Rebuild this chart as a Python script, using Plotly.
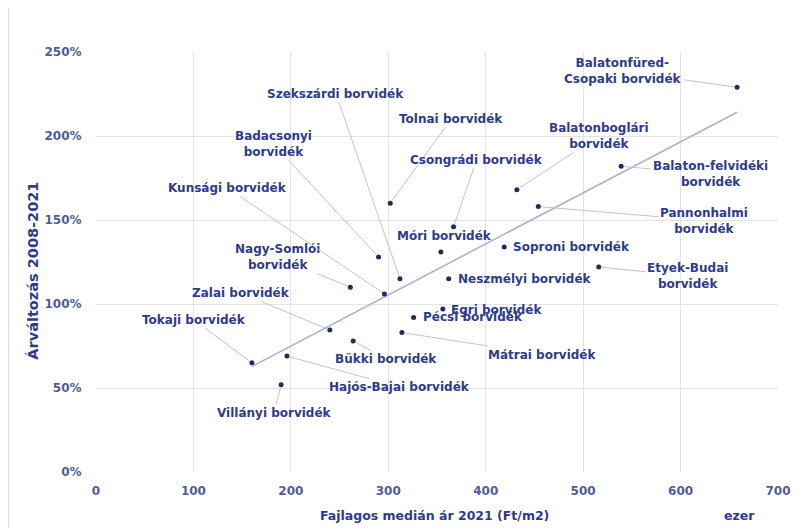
import numpy as np
import plotly.graph_objects as go

# ---- data ----
regions = [
    "Balatonfüred-Csopaki borvidék", "Balatonboglári borvidék", "Balaton-felvidéki borvidék",
    "Pannonhalmi borvidék", "Soproni borvidék", "Etyek-Budai borvidék", "Neszmélyi borvidék",
    "Egri borvidék", "Pécsi borvidék", "Mátrai borvidék", "Bükki borvidék", "Hajós-Bajai borvidék",
    "Villányi borvidék", "Tokaji borvidék", "Zalai borvidék", "Nagy-Somlói borvidék",
    "Kunsági borvidék", "Badacsonyi borvidék", "Szekszárdi borvidék", "Tolnai borvidék",
    "Csongrádi borvidék", "Móri borvidék",
]
label_text = [
    "Balatonfüred-<br>Csopaki borvidék", "Balatonboglári<br>borvidék", "Balaton-felvidéki<br>borvidék",
    "Pannonhalmi<br>borvidék", "Soproni borvidék", "Etyek-Budai<br>borvidék", "Neszmélyi borvidék",
    "Egri borvidék", "Pécsi borvidék", "Mátrai borvidék", "Bükki borvidék", "Hajós-Bajai borvidék",
    "Villányi borvidék", "Tokaji borvidék", "Zalai borvidék", "Nagy-Somlói<br>borvidék",
    "Kunsági borvidék", "Badacsonyi<br>borvidék", "Szekszárdi borvidék", "Tolnai borvidék",
    "Csongrádi borvidék", "Móri borvidék",
]
price_2021 = [658, 432, 539, 454, 419, 516, 362, 356, 326, 314, 264, 196,
              190, 160, 240, 261, 296, 290, 312, 302, 367, 354]
change_2008_2021 = [229, 168, 182, 158, 134, 122, 115, 97, 92, 83, 78, 69,
                    52, 65, 84.5, 110, 106, 128, 115, 160, 146, 131]

x_ticks = [0, 100, 200, 300, 400, 500, 600, 700]
y_ticks = [0, 50, 100, 150, 200, 250]
y_tick_labels = ["0%", "50%", "100%", "150%", "200%", "250%"]

# ---- label placement (pixel offsets of label centre from its point) ----
label_pos = {
    "Balatonfüred-Csopaki borvidék": ("arrow", -114, -16),
    "Balatonboglári borvidék": ("arrow", 82, -54),
    "Balaton-felvidéki borvidék": ("arrow", 89, 8),
    "Pannonhalmi borvidék": ("arrow", 166, 14),
    "Soproni borvidék": ("right", 7, 0),
    "Etyek-Budai borvidék": ("arrow", 89, 9),
    "Neszmélyi borvidék": ("right", 7, 0),
    "Egri borvidék": ("right", 6, 1),
    "Pécsi borvidék": ("right", 7, 0),
    "Mátrai borvidék": ("arrow", 140, 22),
    "Bükki borvidék": ("arrow", 33, 18),
    "Hajós-Bajai borvidék": ("arrow", 113, 31),
    "Villányi borvidék": ("arrow", -7, 28),
    "Tokaji borvidék": ("arrow", -58, -43),
    "Zalai borvidék": ("arrow", -89, -37),
    "Nagy-Somlói borvidék": ("arrow", -73, -30),
    "Kunsági borvidék": ("arrow", -157, -106),
    "Badacsonyi borvidék": ("arrow", -105, -113),
    "Szekszárdi borvidék": ("arrow", -64, -185),
    "Tolnai borvidék": ("arrow", 61, -84),
    "Csongrádi borvidék": ("arrow", 23, -67),
    "Móri borvidék": ("above", 4, 16),
}

NAVY = "#2e3b8b"
TICK = "#4d5c9c"
FONT = "DejaVu Sans"

fig = go.Figure()

# trendline (linear fit)
xs = np.array(price_2021, dtype=float)
ys = np.array(change_2008_2021, dtype=float)
slope, intercept = np.polyfit(xs, ys, 1)
tx = np.array([xs.min(), xs.max()])
fig.add_trace(go.Scatter(x=tx, y=slope * tx + intercept, mode="lines",
                         line=dict(color="#aab3d3", width=1.6),
                         hoverinfo="skip", showlegend=False))

fig.add_trace(go.Scatter(x=price_2021, y=change_2008_2021, mode="markers",
                         marker=dict(color="#1f2a5e", size=5),
                         text=regions, hoverinfo="text", showlegend=False))

lab_font = dict(family=FONT, size=12, color=NAVY, weight="bold")
for name, txt, x, y in zip(regions, label_text, price_2021, change_2008_2021):
    kind, dx, dy = label_pos[name]
    if kind == "arrow":
        fig.add_annotation(x=x, y=y, text=txt, showarrow=True, arrowhead=0,
                           arrowwidth=1, arrowcolor="#c4c4c4", ax=dx, ay=dy,
                           standoff=3, font=lab_font, align="center")
    elif kind == "right":
        fig.add_annotation(x=x, y=y, text=txt, showarrow=False, xanchor="left",
                           xshift=dx, yshift=-dy, font=lab_font)
    else:
        fig.add_annotation(x=x, y=y, text=txt, showarrow=False, xanchor="center",
                           xshift=dx, yshift=dy, font=lab_font)

# axis titles
fig.add_annotation(xref="paper", yref="paper", x=0.497, y=-0.103, yanchor="middle",
                   text="Fajlagos medián ár 2021 (Ft/m2)", showarrow=False,
                   font=dict(family=FONT, size=12.5, color=NAVY, weight="bold"))
fig.add_annotation(xref="paper", yref="paper", x=0.969, y=-0.103, yanchor="middle",
                   text="ezer", showarrow=False,
                   font=dict(family=FONT, size=12.5, color=NAVY, weight="bold"))
fig.add_annotation(xref="paper", yref="paper", x=-0.092, y=0.48, xanchor="center",
                   yanchor="middle", textangle=-90,
                   text="Árváltozás 2008-2021", showarrow=False,
                   font=dict(family=FONT, size=14.5, color=NAVY, weight="bold"))

# outer chart border
fig.add_shape(type="rect", xref="paper", yref="paper", x0=-0.128, x1=1.04,
              y0=-0.14, y1=1.112, line=dict(color="#d9d9d9", width=1), layer="below")

fig.update_xaxes(range=[0, 700], tickvals=x_ticks, showgrid=True, gridcolor="#e4e4e4",
                 gridwidth=1, zeroline=False, showline=False,
                 ticks="outside", ticklen=8, tickcolor="rgba(0,0,0,0)",
                 tickfont=dict(family=FONT, size=12, color=TICK, weight="bold"),
                 fixedrange=True)
fig.update_yaxes(range=[0, 250], tickvals=y_ticks, ticktext=y_tick_labels,
                 showgrid=True, gridcolor="#e4e4e4", gridwidth=1, zeroline=False,
                 showline=False, ticks="outside", ticklen=11,
                 tickcolor="rgba(0,0,0,0)",
                 tickfont=dict(family=FONT, size=12, color=TICK, weight="bold"),
                 fixedrange=True)

# page body has an 8px margin, so the figure is 8px smaller and margins shifted
fig.update_layout(width=795, height=520,
                  margin=dict(l=88, r=17, t=44, b=56),
                  paper_bgcolor="white", plot_bgcolor="white",
                  showlegend=False)

fig.write_html("out.html")
